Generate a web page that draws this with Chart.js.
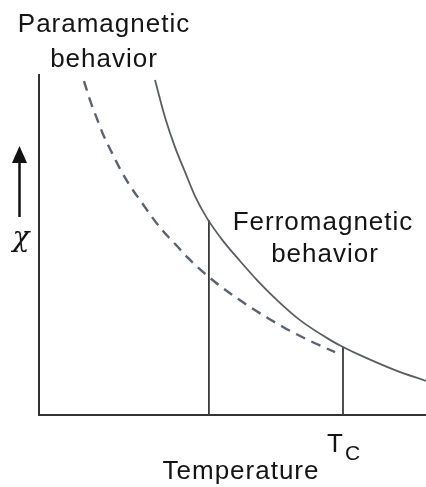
<!DOCTYPE html>
<html>
<head>
<meta charset="utf-8">
<script src="https://cdn.jsdelivr.net/npm/chart.js@4/dist/chart.umd.min.js"></script>
<style>
  html, body { margin: 0; padding: 0; background: #fff; }
  #wrap { width: 426px; height: 487px; position: relative; }
</style>
</head>
<body>
<div id="wrap"><canvas id="c"></canvas></div>
<script>
// Ferromagnetic (solid) susceptibility curve: temperature (0-100) vs chi (0-100)
const ferroT   = [29.97, 32.56, 35.14, 37.73, 40.31, 43.41, 47.55, 51.94, 56.33, 61.50, 67.44, 75.19, 78.55, 82.95, 91.99, 100];
const ferroChi = [98.5, 87.6, 78.8, 71.5, 64.4, 57.9, 51.2, 45.3, 39.7, 33.8, 27.9, 22.1, 20.0, 17.6, 13.2, 10.0];
// Paramagnetic (dashed) curve
const paraT    = [11.63, 13.18, 14.99, 16.54, 18.86, 20.93, 23.51, 26.61, 29.20, 32.04, 35.66, 38.50, 45.48, 54.52, 63.05, 70.03, 76.49];
const paraChi  = [98.2, 92.6, 87.1, 82.6, 77.1, 72.4, 67.4, 62.4, 58.2, 54.1, 49.7, 46.2, 39.1, 31.8, 25.9, 21.8, 18.5];
// Vertical marker lines: temperature and chi at top
const markerT   = [43.9, 78.55];
const markerChi = [57.3, 20.0];
// Text labels
const paraLabel  = ["Paramagnetic", "behavior"];
const ferroLabel = ["Ferromagnetic", "behavior"];
const xLabel = "Temperature";
const yLabel = "\u03C7";
const tcLabel = ["T", "C"];

const toPts = (xs, ys) => xs.map((x, i) => ({ x: x, y: ys[i] }));

const datasets = [
  {
    data: toPts(ferroT, ferroChi),
    borderColor: '#5a5d62',
    borderWidth: 1.8,
    pointRadius: 0,
    cubicInterpolationMode: 'monotone',
    fill: false
  },
  {
    data: toPts(paraT, paraChi),
    borderColor: '#5c6270',
    borderWidth: 2.4,
    borderDash: [10, 7],
    pointRadius: 0,
    cubicInterpolationMode: 'monotone',
    fill: false
  }
];
markerT.forEach((t, i) => {
  datasets.push({
    data: [{ x: t, y: 0 }, { x: t, y: markerChi[i] }],
    borderColor: '#3a3a3a',
    borderWidth: 1.8,
    pointRadius: 0,
    fill: false
  });
});

const labelsPlugin = {
  id: 'labels',
  afterDraw(chart) {
    const ctx = chart.ctx;
    ctx.save();
    ctx.fillStyle = '#141414';
    ctx.textBaseline = 'alphabetic';
    ctx.textAlign = 'center';
    ctx.font = '26px "Liberation Sans", Arial, sans-serif';
    try { ctx.letterSpacing = '1px'; } catch (e) {}
    ctx.fillText(paraLabel[0], 104, 32);
    ctx.fillText(paraLabel[1], 104, 67);
    ctx.fillText(ferroLabel[0], 323, 230);
    ctx.fillText(ferroLabel[1], 325, 262);
    ctx.fillText(xLabel, 241, 479);
    ctx.textAlign = 'left';
    ctx.fillText(tcLabel[0], 327, 452);
    ctx.font = '21px "Liberation Sans", Arial, sans-serif';
    ctx.fillText(tcLabel[1], 345, 460);
    try { ctx.letterSpacing = '0px'; } catch (e) {}
    // chi symbol
    ctx.textAlign = 'center';
    ctx.font = 'italic 28px "DejaVu Serif", serif';
    ctx.fillText(yLabel, 21, 246);
    // arrow
    ctx.strokeStyle = '#111';
    ctx.lineWidth = 2.5;
    ctx.beginPath();
    ctx.moveTo(19.5, 217);
    ctx.lineTo(19.5, 160);
    ctx.stroke();
    ctx.fillStyle = '#111';
    ctx.beginPath();
    ctx.moveTo(12, 163);
    ctx.lineTo(27, 163);
    ctx.lineTo(19.5, 146);
    ctx.closePath();
    ctx.fill();
    ctx.restore();
  }
};

const bgPlugin = {
  id: 'bg',
  beforeDraw(chart) {
    const ctx = chart.ctx;
    ctx.save();
    ctx.fillStyle = '#fff';
    ctx.fillRect(0, 0, chart.width, chart.height);
    ctx.restore();
  }
};

new Chart(document.getElementById('c'), {
  type: 'line',
  data: { datasets: datasets },
  options: {
    responsive: true,
    maintainAspectRatio: false,
    animation: false,
    devicePixelRatio: 1,
    layout: { padding: { left: 39, top: 75, right: 0, bottom: 72 } },
    plugins: { legend: { display: false }, tooltip: { enabled: false } },
    scales: {
      x: {
        type: 'linear', min: 0, max: 100,
        ticks: { display: false },
        grid: { display: false, drawTicks: false },
        border: { display: true, color: '#333', width: 2 },
        afterFit(s) { s.height = 0; }
      },
      y: {
        type: 'linear', min: 0, max: 100,
        ticks: { display: false },
        grid: { display: false, drawTicks: false },
        border: { display: true, color: '#333', width: 2 },
        afterFit(s) { s.width = 0; }
      }
    }
  },
  plugins: [bgPlugin, labelsPlugin]
});
</script>
</body>
</html>
